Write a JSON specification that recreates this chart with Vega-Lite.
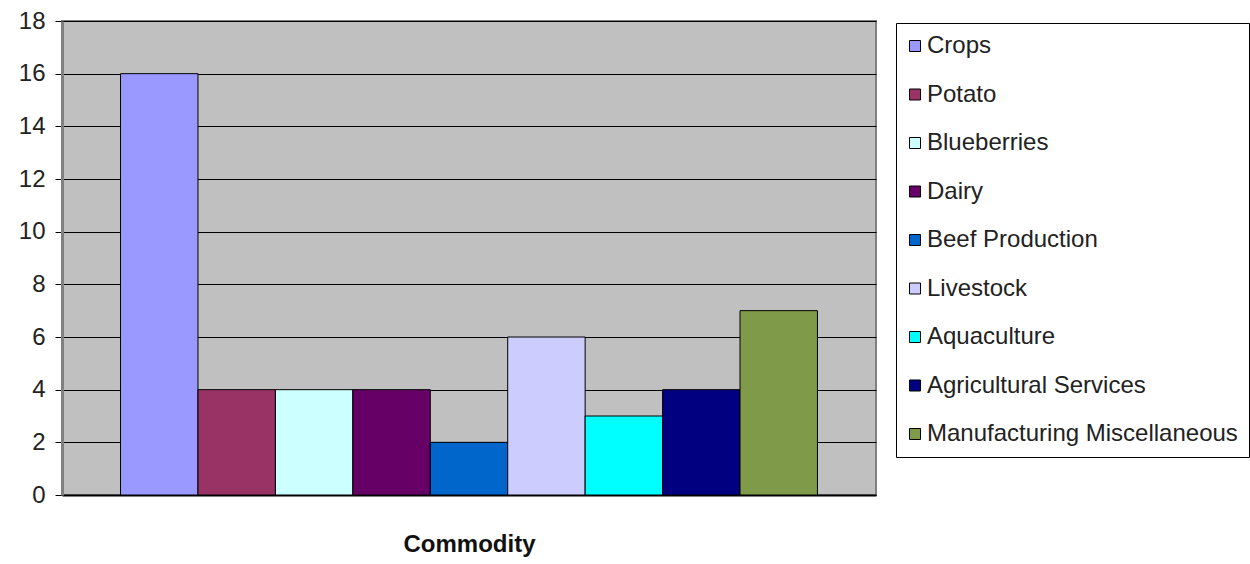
{
  "$schema": "https://vega.github.io/schema/vega-lite/v6.json",
  "autosize": {"type": "none"},
  "padding": {"left": 62, "top": 21, "right": 374, "bottom": 69},
  "width": 814,
  "height": 474,
  "background": "white",
  "data": {
    "values": [
      {"group": "Commodity", "commodity": "Crops", "value": 16},
      {"group": "Commodity", "commodity": "Potato", "value": 4},
      {"group": "Commodity", "commodity": "Blueberries", "value": 4},
      {"group": "Commodity", "commodity": "Dairy", "value": 4},
      {"group": "Commodity", "commodity": "Beef Production", "value": 2},
      {"group": "Commodity", "commodity": "Livestock", "value": 6},
      {"group": "Commodity", "commodity": "Aquaculture", "value": 3},
      {"group": "Commodity", "commodity": "Agricultural Services", "value": 4},
      {"group": "Commodity", "commodity": "Manufacturing Miscellaneous", "value": 7}
    ]
  },
  "config": {
    "view": {"fill": "#C0C0C0", "stroke": "#808080", "strokeWidth": 2},
    "font": "Liberation Sans"
  },
  "mark": {"type": "bar", "stroke": "black", "strokeWidth": 1},
  "encoding": {
    "x": {
      "field": "group",
      "type": "nominal",
      "scale": {"paddingInner": 0, "paddingOuter": 0.084},
      "axis": {
        "labels": false,
        "ticks": false,
        "domain": true,
        "domainColor": "black",
        "domainWidth": 2,
        "title": "Commodity",
        "titleFont": "Liberation Sans",
        "titleFontSize": 24,
        "titleFontWeight": "bold",
        "titleColor": "#111",
        "titlePadding": 37
      }
    },
    "xOffset": {
      "field": "commodity",
      "type": "nominal",
      "sort": ["Crops", "Potato", "Blueberries", "Dairy", "Beef Production", "Livestock", "Aquaculture", "Agricultural Services", "Manufacturing Miscellaneous"],
      "scale": {"paddingInner": 0, "paddingOuter": 0}
    },
    "y": {
      "field": "value",
      "type": "quantitative",
      "scale": {"domain": [0, 18], "nice": false},
      "axis": {
        "values": [0, 2, 4, 6, 8, 10, 12, 14, 16, 18],
        "title": null,
        "grid": true,
        "gridColor": "black",
        "gridWidth": 1,
        "gridOpacity": 1,
        "domainColor": "#808080",
        "domainWidth": 3,
        "tickColor": "black",
        "tickSize": 7,
        "labelPadding": 10,
        "labelFont": "Liberation Sans",
        "labelFontSize": 24,
        "labelColor": "#222"
      }
    },
    "color": {
      "field": "commodity",
      "type": "nominal",
      "sort": ["Crops", "Potato", "Blueberries", "Dairy", "Beef Production", "Livestock", "Aquaculture", "Agricultural Services", "Manufacturing Miscellaneous"],
      "scale": {
        "domain": ["Crops", "Potato", "Blueberries", "Dairy", "Beef Production", "Livestock", "Aquaculture", "Agricultural Services", "Manufacturing Miscellaneous"],
        "range": ["#9999FF", "#993366", "#CCFFFF", "#660066", "#0066CC", "#CCCCFF", "#00FFFF", "#000080", "#7F9A48"]
      },
      "legend": {
        "orient": "none",
        "legendX": 834,
        "legendY": 2,
        "title": null,
        "strokeColor": "black",
        "fillColor": "white",
        "padding": 11,
        "rowPadding": 24.5,
        "symbolType": "square",
        "symbolSize": 121,
        "symbolOffset": -4,
        "symbolStrokeColor": "black",
        "symbolStrokeWidth": 1,
        "symbolOpacity": 1,
        "labelFont": "Liberation Sans",
        "labelFontSize": 24,
        "labelColor": "#222",
        "labelOffset": 0,
        "labelLimit": 400
      }
    }
  }
}
